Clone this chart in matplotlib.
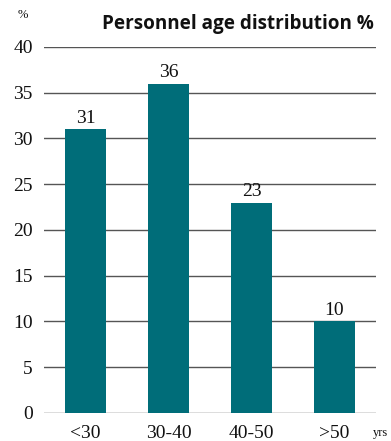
import matplotlib.pyplot as plt

# Age bands and share of personnel (%)
age_groups = ['<30', '30-40', '40-50', '>50']
shares = [31, 36, 23, 10]
y_ticks = [0, 5, 10, 15, 20, 25, 30, 35, 40]

bar_color = '#006d79'
serif = ['Liberation Serif', 'DejaVu Serif']

fig = plt.figure(figsize=(3.91, 4.41), dpi=100)
ax = fig.add_axes([0.1125, 0.0635, 0.849, 0.83])

x = range(len(age_groups))
ax.bar(x, shares, width=0.494, color=bar_color, zorder=3)

for xi, v in zip(x, shares):
    ax.text(xi, v + 0.25, str(v), ha='center', va='bottom',
            fontsize=14, family=serif, color='#111111')

ax.set_xlim(-0.5, 3.5)
ax.set_ylim(0, 40)
ax.set_yticks(y_ticks)
ax.set_xticks(list(x))
ax.set_xticklabels(age_groups)
ax.yaxis.grid(True, color='#555555', linewidth=1.0, zorder=0)
ax.set_axisbelow(True)
for s in ax.spines.values():
    s.set_visible(False)
ax.tick_params(length=0)
ax.tick_params(axis='y', pad=8)
ax.tick_params(axis='x', pad=9)
for lbl in ax.get_yticklabels() + ax.get_xticklabels():
    lbl.set_family(serif)
    lbl.set_fontsize(14)
    lbl.set_color('#111111')

fig.text(0.046, 0.966, '%', fontsize=9, family=serif, ha='left', va='center', color='#111111')
fig.text(0.993, 0.005, 'yrs', fontsize=9, family=serif, ha='right', va='bottom', color='#111111')
fig.text(0.955, 0.935, 'Personnel age distribution %', fontsize=13.6, fontweight='bold',
         family='Open Sans', ha='right', va='baseline', color='#111111')

fig.savefig('out.png', dpi=100)
